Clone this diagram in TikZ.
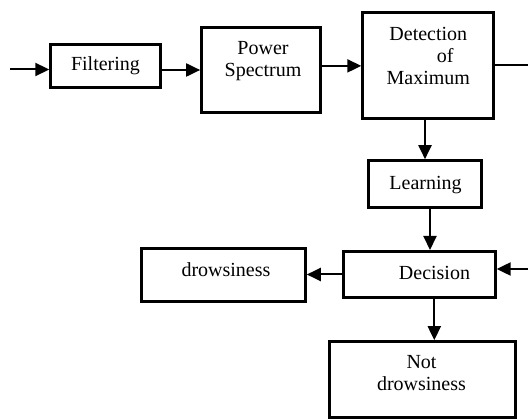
\documentclass[tikz,border=0pt]{standalone}
\usepackage{fontspec}
\setmainfont{Liberation Serif}
\usetikzlibrary{arrows.meta}
\begin{document}
\begin{tikzpicture}[x=1pt,y=-1pt,
  box/.style={draw, line width=3pt, inner sep=0pt, anchor=center},
  lbl/.style={font=\fontsize{20}{21.7}\selectfont, align=center, inner sep=0pt, anchor=center},
  arr/.style={line width=2pt, -{Triangle[length=14pt,width=13pt]}},
  thin/.style={line width=1.3pt},
]
\useasboundingbox (0,0) rectangle (528,419);

% blocks
\node[box, minimum width=110pt, minimum height=43.8pt] (filt) at (105.8,66.1) {};
\node[box, minimum width=119.3pt, minimum height=85pt] (ps) at (261.3,70) {};
\node[box, minimum width=131pt, minimum height=106.2pt] (det) at (428.3,65.9) {};
\node[box, minimum width=112.6pt, minimum height=46.6pt] (learn) at (425,184) {};
\node[box, minimum width=151.7pt, minimum height=46pt] (dec) at (419.3,274.5) {};
\node[box, minimum width=164pt, minimum height=52.6pt] (drow) at (223.3,275) {};
\node[box, minimum width=186pt, minimum height=76pt] (notdrow) at (422,379.7) {};

% block texts
\node[lbl] (tfilt) at (105.5,66.2) {Filtering};
\node[lbl] (tps) at (263,61) {Power\\Spectrum};
\node[lbl, font=\fontsize{20}{22}\selectfont] (tdet) at (428.3,56.3) {Detection\\\hspace*{34pt}of\\Maximum};
\node[lbl] (tlearn) at (425.5,185) {Learning};
\node[lbl] (tdec) at (434.5,272.5) {Decision};
\node[lbl] (tdrow) at (226,270) {drowsiness};
\node[lbl] (tnotdrow) at (421.5,373.3) {Not\\drowsiness};

% free ends at the edges
\coordinate (in) at (10,69.5);
\coordinate (outdet) at (528,65);
\coordinate (indec) at (528,269);
\coordinate (lrn) at ([xshift=5pt]learn.south);
\coordinate (dcs) at ([xshift=15pt]dec.south);

% connectors
\draw[arr] (in) -- (in -| filt.west);
\draw[arr] (filt.east |- ps.west) -- (ps.west);
\draw[arr] (ps.east |- det.west) -- (det.west);
\draw[thin] (det.east |- outdet) -- (outdet);
\draw[arr] (learn.north |- det.south) -- (learn.north);
\draw[arr] (lrn) -- (lrn |- dec.north);
\draw[arr] (indec) -- (indec -| dec.east);
\draw[arr] (dec.west) -- (dec.west -| drow.east);
\draw[arr] (dcs) -- (dcs |- notdrow.north);
\end{tikzpicture}
\end{document}
